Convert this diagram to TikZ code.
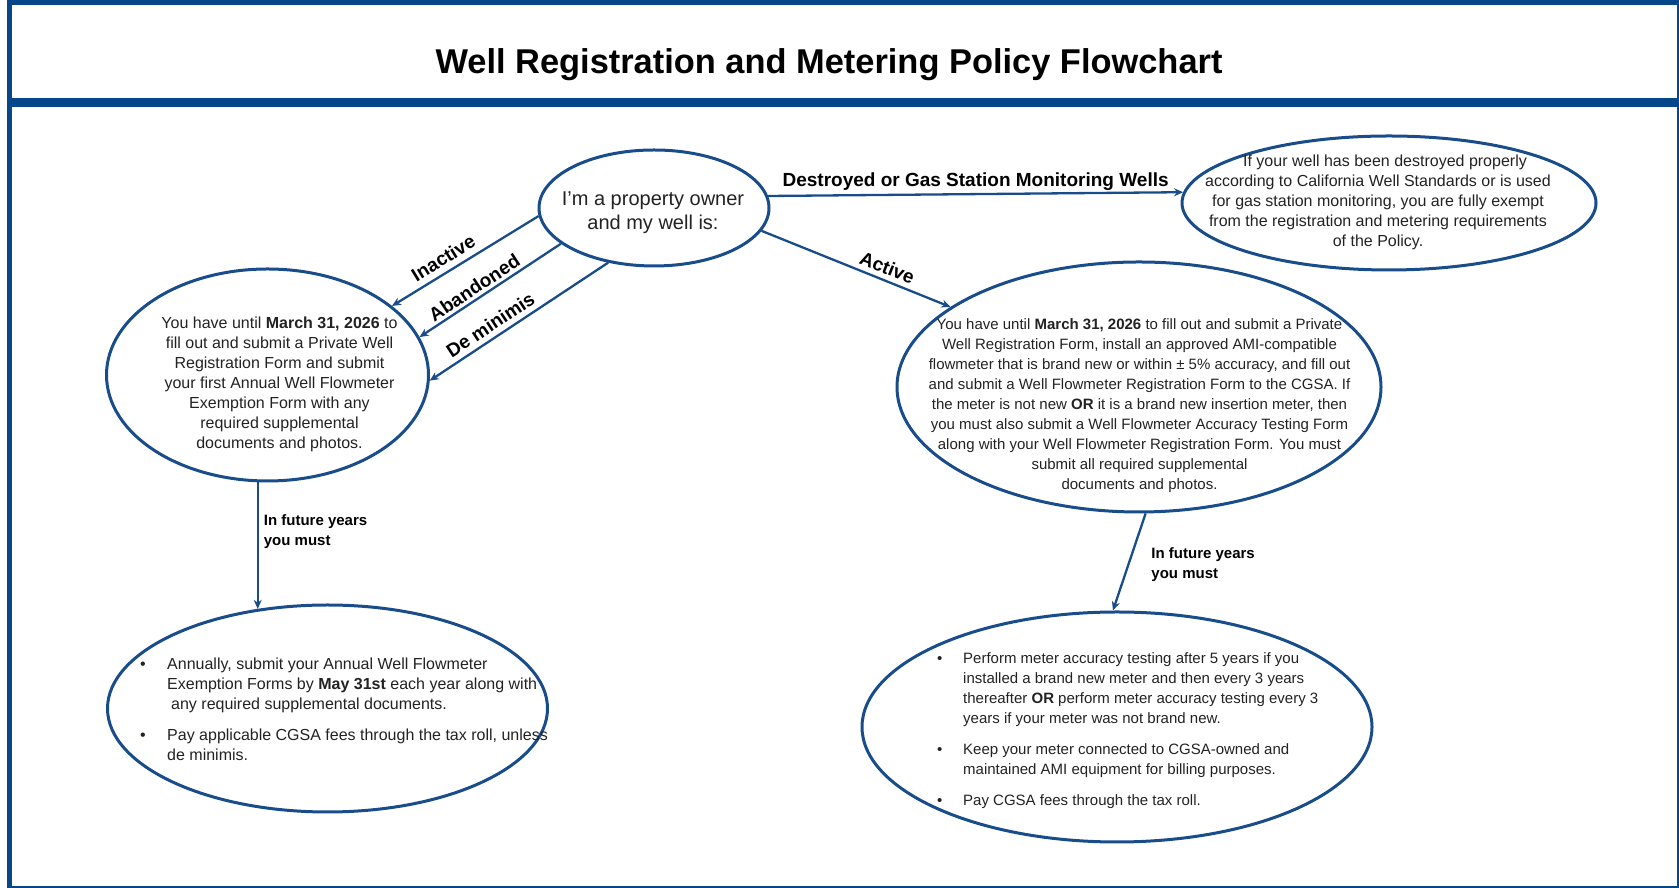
\documentclass[tikz,border=0pt]{standalone}
\usepackage{fontspec}
\setmainfont{Liberation Sans}
\usetikzlibrary{shapes.geometric,arrows.meta}
\definecolor{wellblue}{RGB}{24,76,138}
\definecolor{framblue}{RGB}{8,70,140}
\definecolor{inkgray}{RGB}{34,34,34}

\begin{document}
\begin{tikzpicture}[x=1pt,y=1pt,
	oval/.style={draw=wellblue,line width=3pt,ellipse,inner sep=0pt},
	flow/.style={draw=wellblue,line width=2.3pt,-{Stealth[length=9pt,width=8pt]}},
	choice/.style={font=\fontsize{19}{22}\selectfont\bfseries,text=black},
	future/.style={font=\fontsize{15}{20}\selectfont\bfseries,text=black,align=left,inner sep=0pt},
	body/.style={font=\fontsize{16}{20}\selectfont,text=inkgray,align=center,inner sep=0pt}]
					\useasboundingbox (0,0) rectangle (1679,888);
					%CADRE
					\draw[framblue,line width=5pt] (9.5,885.5) rectangle (1679.5,-0.5);
					\draw[framblue,line width=9pt] (9.5,785.5) -- (1679.5,785.5);
					\node[font=\fontsize{34.4}{40}\selectfont\bfseries,anchor=base] (title) at (829,814) {Well Registration and Metering Policy Flowchart};

					%DEPART
					\node[oval,minimum width=230pt,minimum height=116pt] (start) at (654,680) {};
					\node[font=\fontsize{20}{24}\selectfont,text=inkgray,align=center,inner sep=0pt] (startTxt) at (653,675) {I’m a property owner\\and my well is:};

					%DETRUIT
					\node[oval,minimum width=414pt,minimum height=134pt] (dest) at (1389,685) {};
					\node[body] (destTxt) at (1378,686) {\hspace*{14pt}If your well has been destroyed properly\\according to California Well Standards or is used\\for gas station monitoring, you are fully exempt\\from the registration and metering requirements\\of the Policy.};

					%INACTIF
					\node[oval,minimum width=322pt,minimum height=212pt] (inact) at (267.5,513) {};
					\node[body] (inactTxt) at (279.5,504) {You have until \textbf{March 31, 2026} to\\fill out and submit a Private Well\\Registration Form and submit\\your first Annual Well Flowmeter\\Exemption Form with any\\required supplemental\\documents and photos.};

					%ACTIF
					\node[oval,minimum width=484pt,minimum height=250pt] (act) at (1139,501) {};
					\node[body,font=\fontsize{15}{20}\selectfont] (actTxt) at (1139.5,482) {You have until \textbf{March 31, 2026} to fill out and submit a Private\\Well Registration Form, install an approved AMI-compatible\\flowmeter that is brand new or within ± 5\% accuracy, and fill out\\and submit a Well Flowmeter Registration Form to the CGSA. If\\the meter is not new \textbf{OR} it is a brand new insertion meter, then\\you must also submit a Well Flowmeter Accuracy Testing Form\\along with your Well Flowmeter Registration Form. You must\\submit all required supplemental\\documents and photos.};

					%ANNEES SUIVANTES
					\node[oval,minimum width=440pt,minimum height=207pt] (futL) at (327.5,179.5) {};
					\node[body,anchor=west] (futLTxt) at (140,177) {\begin{tabular}{@{}p{27pt}@{}l@{}}
						\textbullet & Annually, submit your Annual Well Flowmeter\\
						& Exemption Forms by \textbf{May 31st} each year along with\\
						& \hspace{4pt}any required supplemental documents.\\[11pt]
						\textbullet & Pay applicable CGSA fees through the tax roll, unless\\
						& de minimis.
					\end{tabular}};
					\node[oval,minimum width=510pt,minimum height=230pt] (futR) at (1117,161) {};
					\node[body,font=\fontsize{15}{20}\selectfont,anchor=west] (futRTxt) at (937,157) {\begin{tabular}{@{}p{26pt}@{}l@{}}
						\textbullet & Perform meter accuracy testing after 5 years if you\\
						& installed a brand new meter and then every 3 years\\
						& thereafter \textbf{OR} perform meter accuracy testing every 3\\
						& years if your meter was not brand new.\\[11pt]
						\textbullet & Keep your meter connected to CGSA-owned and\\
						& maintained AMI equipment for billing purposes.\\[11pt]
						\textbullet & Pay CGSA fees through the tax roll.
					\end{tabular}};

					%FLECHES
					\draw[flow] (start.6.6) -- node[choice,midway,above,inner sep=2pt] (lblDest) {Destroyed or Gas Station Monitoring Wells} (dest.177.2);
					\draw[flow] (start.-12.6) -- node[choice,pos=0.64,sloped,above,inner sep=5pt] (lblAct) {Active} (act.157.4);
					\draw[flow] (start.184.5) -- node[choice,pos=0.6,sloped,above,inner sep=6pt] (lblInact) {Inactive} (inact.29.8);
					\draw[flow] (start.201.5) -- node[choice,pos=0.57,sloped,above,inner sep=3pt] (lblAband) {Abandoned} (inact.14.8);
					\draw[flow] (start.230.8) -- node[choice,pos=0.62,sloped,above,inner sep=5pt] (lblDemin) {De minimis} (inact.-2.5);
					\draw[flow] (inact.south -| futL.125) -- node[future,pos=0.39,anchor=west,xshift=5pt] (lblFutL) {In future years\\you must} (futL.125);
					\draw[flow] (act.273.2) -- node[future,pos=0.53,anchor=west,xshift=22pt] (lblFutR) {In future years\\you must} (futR.92.5);
				  \end{tikzpicture}
\end{document}
